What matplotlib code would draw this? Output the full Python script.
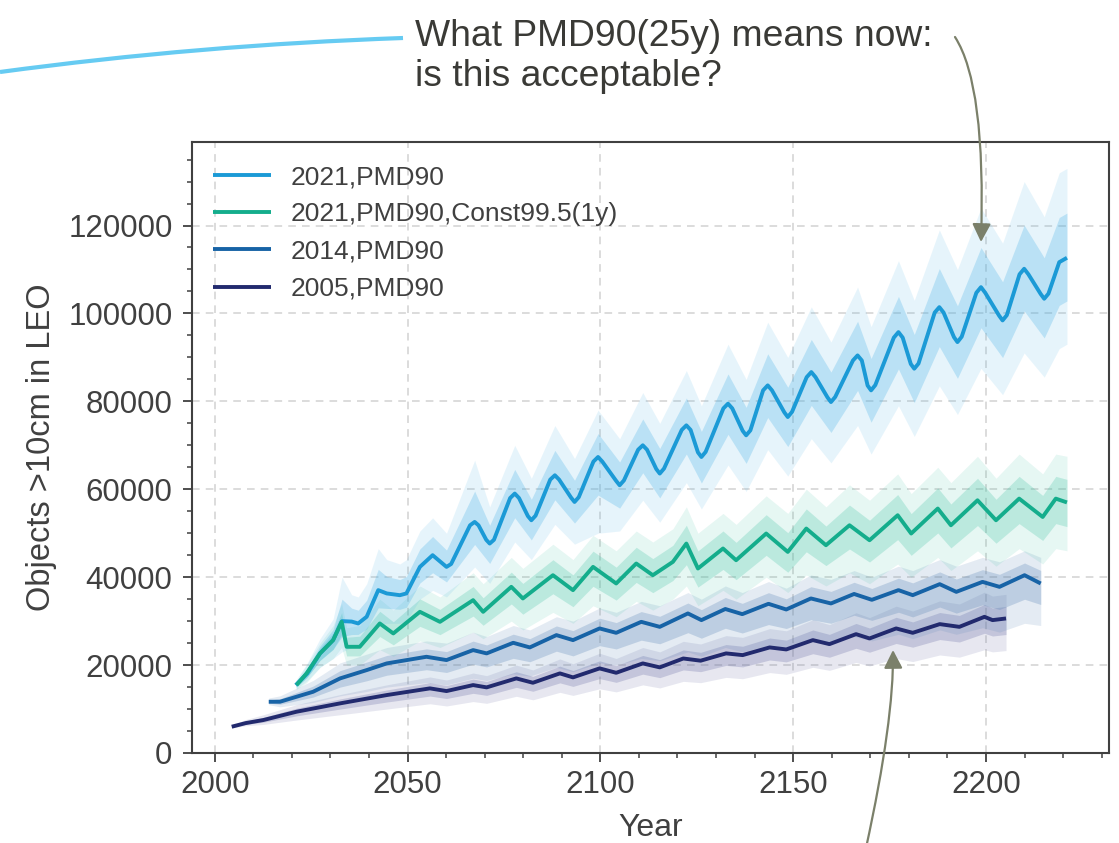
import matplotlib.pyplot as plt
import numpy as np
from matplotlib.path import Path
from matplotlib.patches import FancyArrowPatch, PathPatch
from matplotlib.ticker import MultipleLocator

plt.rcParams['font.family'] = ['Liberation Sans', 'DejaVu Sans']

# ---- data ----
# 2021,PMD90 mean line
yr_21 = [2021, 2024, 2027.3, 2030.7, 2033, 2035.5, 2037.2, 2039.4, 2042.4, 2044.6, 2048, 2049.7,
         2053.2, 2056.5, 2059.2, 2060.1, 2061.3, 2066.2, 2067.4, 2068.4, 2070.4, 2071.3, 2072.4,
         2076.6, 2077.8, 2078.9, 2081.2, 2082.1, 2083.2, 2087, 2088.2, 2089.3, 2092.4, 2093.3,
         2094.4, 2098.2, 2099.4, 2100.5, 2104.1, 2105, 2106.1, 2109.8, 2111, 2112.1, 2114.5,
         2115.4, 2116.5, 2121.1, 2122.3, 2123.4, 2125.3, 2126.2, 2127.3, 2131.9, 2133.1, 2134.2,
         2136.9, 2137.8, 2138.9, 2142.2, 2143.4, 2144.5, 2147.7, 2148.6, 2149.7, 2153.5, 2154.7,
         2155.8, 2158.9, 2159.8, 2160.9, 2165.5, 2166.7, 2167.8, 2169.3, 2170.2, 2171.3, 2176.1,
         2177.3, 2178.4, 2180.5, 2181.4, 2182.5, 2186.7, 2187.9, 2189, 2191.7, 2192.6, 2193.7,
         2197.5, 2198.7, 2199.8, 2203.4, 2204.3, 2205.4, 2208.7, 2209.9, 2211, 2214.2, 2215.1,
         2216.2, 2219, 2221]
mean_21 = [15450, 18100, 22660, 25700, 30000, 29900, 29470, 31000, 37050, 36300, 35900, 36300,
           42340, 45000, 43000, 42340, 43000, 51800, 52570, 51800, 48500, 47650, 48500,
           58000, 59020, 58000, 53900, 52950, 54000, 62200, 63180, 62200, 58100, 57110,
           58200, 66300, 67340, 66300, 61900, 60910, 62000, 69000, 70000, 69000, 64600,
           63570, 64700, 73500, 74540, 73500, 68400, 67340, 68500, 78400, 79470, 78400,
           73300, 72270, 73400, 82500, 83630, 82500, 77500, 76430, 77600, 85500, 86660,
           85500, 80900, 79840, 81000, 89300, 90450, 89300, 83600, 82500, 83700, 94500,
           95750, 94500, 88500, 87430, 88600, 100200, 101430, 100200, 94600, 93480, 94700,
           104700, 105980, 104700, 99500, 98410, 99600, 108900, 110160, 108900, 104400, 103340,
           104500, 111660, 112660]
# 2021,PMD90 ensemble envelope
yr_21b = [2021, 2024, 2027.3, 2030.7, 2033, 2035.5, 2037.2, 2039.4, 2042.4, 2044.6, 2048, 2049.7,
          2053.2, 2056.5, 2060.1, 2067.4, 2071.3, 2077.8, 2082.1, 2088.2, 2093.3, 2099.4, 2105,
          2111, 2115.4, 2122.3, 2126.2, 2133.1, 2137.8, 2143.4, 2148.6, 2154.7, 2159.8, 2166.7,
          2170.2, 2177.3, 2181.4, 2187.9, 2192.6, 2198.7, 2204.3, 2209.9, 2215.1, 2219, 2221]
mid_21b = [15450, 18100, 22660, 25700, 30000, 29900, 29470, 31000, 37050, 36300, 35900, 36300,
           42340, 45000, 42340, 52570, 47650, 59020, 52950, 63180, 57110, 67340, 60910,
           70000, 63570, 74540, 67340, 79470, 72270, 83630, 76430, 86660, 79840, 90450,
           82500, 95750, 87430, 101430, 93480, 105980, 98410, 110160, 103340, 111660, 112660]
hi_21 = [16500, 20500, 26000, 30500, 40000, 36000, 35500, 38500, 46500, 44000, 43000, 44000,
         50500, 53500, 50000, 66600, 56000, 70000, 62500, 74500, 67000, 78000, 71500,
         82000, 75000, 87000, 79000, 93000, 85000, 98000, 90000, 101500, 93500, 106000,
         97000, 112000, 103000, 119000, 110000, 124000, 116000, 130000, 122000, 132000, 133000]
lo_21 = [14500, 16500, 19500, 21500, 23000, 24000, 24500, 25500, 29000, 29500, 29500, 30000,
         35000, 37000, 35500, 42300, 38600, 48000, 44000, 52000, 47500, 50000, 50500,
         57500, 52500, 61500, 55500, 65500, 59500, 69000, 63000, 71500, 66000, 74500,
         68000, 79000, 72000, 83500, 77000, 87500, 81500, 91000, 85500, 92000, 93000]

yr_cst = [2021.2, 2023.8, 2027.3, 2030.7, 2032.9, 2034.2, 2037.6, 2042.8, 2046.3, 2053.2, 2058.4,
          2067, 2069.6, 2076.9, 2079.9, 2087.7, 2092.9, 2098.1, 2104.1, 2109.3, 2113.6, 2118.8,
          2122.3, 2125.3, 2131.8, 2135.2, 2143, 2148.6, 2153.4, 2158.5, 2164.6, 2169.8, 2177.1,
          2180.6, 2187.5, 2190.9, 2197.8, 2202.6, 2208.6, 2214.7, 2218.1, 2221]
mean_cst = [15450, 18110, 22660, 25680, 29850, 24160, 24160, 29470, 27200, 32120, 29840,
            34770, 32120, 37800, 35160, 40450, 37050, 42340, 38570, 43110, 40450, 43480,
            47650, 41970, 46520, 43860, 49930, 45750, 51060, 47270, 51810, 48400, 54090,
            49930, 55610, 51810, 57490, 52950, 57870, 53700, 57870, 57000]
hi_cst = [16500, 20000, 25000, 29000, 34000, 28500, 29000, 35000, 32500, 38000, 35500,
          41000, 38500, 44500, 42000, 47500, 44000, 49500, 46000, 50500, 48000, 51000,
          56000, 50000, 54500, 52000, 58500, 54500, 60000, 56000, 61000, 57500, 63500,
          59000, 65000, 61500, 67500, 62500, 68000, 63500, 68000, 67500]
lo_cst = [14500, 16000, 19500, 21500, 24000, 20000, 20000, 23500, 22000, 25500, 24000,
          27500, 26000, 30000, 28000, 32000, 29500, 33500, 31000, 34500, 32500, 35000,
          38000, 33500, 37000, 35000, 40000, 36500, 40500, 38000, 41000, 38500, 43000,
          40000, 44500, 41500, 46000, 42500, 46500, 43000, 46500, 46000]

yr_14 = [2014, 2016.9, 2025.5, 2032.5, 2039.4, 2044.6, 2054.9, 2060.1, 2067, 2070.5, 2077.4,
         2081.7, 2088.6, 2092.9, 2099.8, 2104.1, 2110.6, 2115.4, 2122.7, 2126.2, 2132.4, 2136.8,
         2143.6, 2148.2, 2154.6, 2159.8, 2165.8, 2170.4, 2177.3, 2181, 2188, 2192.3, 2199.1,
         2203.5, 2210, 2214.2]
mean_14 = [11660, 11660, 13930, 16970, 18860, 20380, 21890, 21140, 23410, 22660, 25070,
           24020, 26820, 25680, 28340, 27340, 29840, 28700, 31750, 30230, 32760, 31590,
           33940, 32650, 35160, 34020, 36180, 34850, 37050, 35910, 38410, 36660, 38930,
           37800, 40450, 38560]
hi_14 = [12500, 13000, 16500, 20500, 22500, 24000, 25500, 25000, 27500, 26500, 29000,
         28000, 31000, 30000, 33000, 32000, 34500, 33500, 36500, 35000, 38000, 36500,
         39000, 37500, 40500, 39500, 41500, 40000, 42500, 41500, 44000, 42500, 44500,
         43500, 46000, 44500]
lo_14 = [11000, 10500, 11500, 13000, 14000, 15000, 16000, 15500, 17000, 16500, 18000,
         17500, 19500, 18500, 20500, 20000, 21500, 21000, 23000, 22000, 24000, 23000,
         24500, 24000, 25500, 25000, 26500, 25500, 27000, 26000, 28000, 27000, 28500,
         27500, 29500, 29000]

yr_05 = [2004.4, 2008, 2012.6, 2021.2, 2032.5, 2044.6, 2055.8, 2060.1, 2067, 2070.5, 2078.2,
         2082.5, 2089.5, 2092.9, 2099.8, 2104.1, 2111, 2115.4, 2121.5, 2126, 2132.6, 2136.9,
         2143.9, 2148.2, 2155.1, 2159.4, 2166.3, 2169.8, 2176.7, 2181, 2188, 2193.1, 2199.6,
         2201.7, 2205.2]
mean_05 = [5980, 6800, 7500, 9390, 11290, 13180, 14700, 14090, 15450, 14930, 16970,
           15980, 18110, 17200, 19250, 18250, 20380, 19480, 21500, 21000, 22660, 22270,
           24020, 23560, 25680, 24770, 27040, 26060, 28340, 27340, 29320, 28700, 30980,
           30230, 30610]
hi_05 = [6300, 7600, 8700, 11000, 13300, 15500, 17300, 16600, 18200, 17600, 20000,
         18900, 21400, 20300, 22700, 21500, 24000, 23000, 25400, 24800, 26700, 26300,
         28300, 27800, 30300, 29200, 31900, 30800, 33400, 32300, 34600, 33900, 36600,
         35700, 36100]
lo_05 = [5700, 6200, 6500, 7500, 8700, 10000, 11200, 10700, 11700, 11300, 12900,
         12100, 13800, 13100, 14600, 13900, 15500, 14800, 16300, 16000, 17200, 16900,
         18300, 17900, 19500, 18800, 20600, 19800, 21500, 20800, 22300, 21800, 23500,
         23000, 23300]

labels = ['2021,PMD90', '2021,PMD90,Const99.5(1y)', '2014,PMD90', '2005,PMD90']
line_colors = ['#1b9ad6', '#14ad8c', '#1763a6', '#222a6e']
band_colors = ['#45b0e6', '#35bf9f', '#5a86b6', '#6a6ea6']
band_alpha = [(0.13, 0.27), (0.12, 0.24), (0.16, 0.28), (0.16, 0.28)]

lines = [(yr_21, mean_21), (yr_cst, mean_cst), (yr_14, mean_14), (yr_05, mean_05)]
bands = [(yr_21b, mid_21b, lo_21, hi_21),
         (yr_cst, mean_cst, lo_cst, hi_cst),
         (yr_14, mean_14, lo_14, hi_14),
         (yr_05, mean_05, lo_05, hi_05)]

fig = plt.figure(figsize=(11.19, 8.43), dpi=100)
ax = fig.add_axes([192/1119, 1 - 753/843, (1109 - 192)/1119, (753 - 142)/843])

# ensemble spread, drawn back to front
for i in [3, 2, 1, 0]:
    x, m, lo, hi = [np.array(a, dtype=float) for a in bands[i]]
    a_out, a_in = band_alpha[i]
    ax.fill_between(x, lo, hi, color=band_colors[i], alpha=a_out, lw=0)
    ax.fill_between(x, (lo + m) / 2, (hi + m) / 2, color=band_colors[i], alpha=a_in, lw=0)

for i in [3, 2, 0, 1]:
    x, m = lines[i]
    ax.plot(x, m, color=line_colors[i], lw=2.8, label=labels[i], zorder=5,
            solid_joinstyle='round', solid_capstyle='butt')

handles, labs = ax.get_legend_handles_labels()
order = [labs.index(l) for l in labels]
leg = ax.legend([handles[k] for k in order], labels, loc='upper left',
                bbox_to_anchor=(0.0229, 0.962), borderaxespad=0, borderpad=0,
                frameon=False, fontsize=19, handlelength=2.2, handletextpad=0.76,
                labelspacing=0.5)
for t in leg.get_texts():
    t.set_color('#404040')

ax.set_xlim(1994.1, 2231.9)
ax.set_ylim(0, 139000)
ax.xaxis.set_major_locator(MultipleLocator(50))
ax.xaxis.set_minor_locator(MultipleLocator(10))
ax.yaxis.set_major_locator(MultipleLocator(20000))
ax.yaxis.set_minor_locator(MultipleLocator(5000))
ax.grid(True, which='major', color='#d2d2d2', ls=(0, (5, 4)), lw=1.1)
ax.set_axisbelow(True)
ax.tick_params(which='major', direction='out', length=6.5, width=1.3, color='#404040',
               labelsize=22.5, labelcolor='#404040', pad=6)
ax.tick_params(which='minor', direction='out', length=3.8, width=1.1, color='#404040')
ax.tick_params(axis='y', which='major', pad=7.5)
for s in ax.spines.values():
    s.set_color('#404040')
    s.set_linewidth(1.5)
ax.set_xlabel('Year', fontsize=23, color='#404040', labelpad=9)
ax.set_ylabel('Objects >10cm in LEO', fontsize=23.5, color='#404040', labelpad=8)

# slide decorations (figure pixel coordinates, y from top)
def fp(x, y):
    return (x / 1119, 1 - y / 843)

fig.text(*fp(415, 19), 'What PMD90(25y) means now:\nis this acceptable?', fontsize=26.8,
         color='#3a3a36', va='top', ha='left', linespacing=1.2)

blue_curve = Path([fp(0, 72), fp(200, 45), fp(403, 38)], [Path.MOVETO, Path.CURVE3, Path.CURVE3])
fig.patches.append(PathPatch(blue_curve, transform=fig.transFigure, fill=False,
                             edgecolor='#66cbf2', lw=3.0))

arrow_kw = dict(arrowstyle='-|>,head_length=0.55,head_width=0.28', mutation_scale=20,
                color='#7b806a', lw=1.6, transform=fig.transFigure)
top_arrow = Path([fp(955, 37), fp(986, 85), fp(981, 242)], [Path.MOVETO, Path.CURVE3, Path.CURVE3])
fig.patches.append(FancyArrowPatch(path=top_arrow, **arrow_kw))
bot_arrow = Path([fp(866, 848), fp(894, 720), fp(893, 650)], [Path.MOVETO, Path.CURVE3, Path.CURVE3])
fig.patches.append(FancyArrowPatch(path=bot_arrow, **arrow_kw))

fig.savefig('out.png', dpi=100)
